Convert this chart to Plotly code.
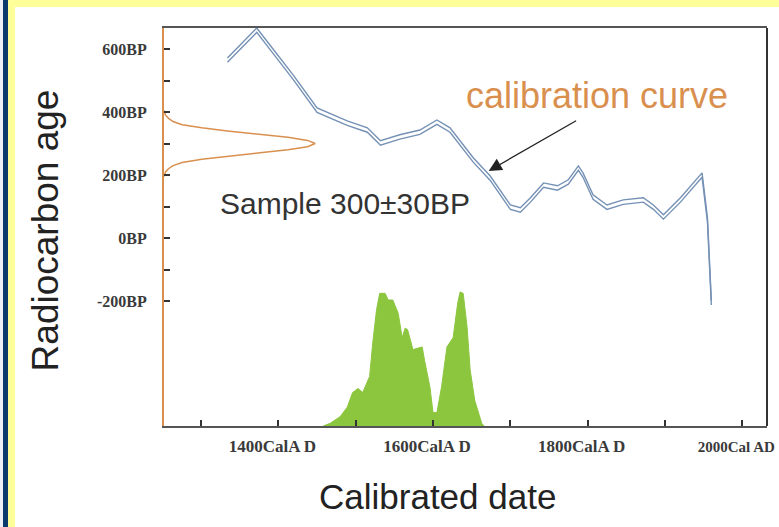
import plotly.graph_objects as go

# Calibration curve (cal AD, radiocarbon BP, half-width of band)
cal_ad = [1334, 1372, 1389, 1419, 1450, 1489, 1515, 1532, 1557, 1583, 1605, 1622,
          1652, 1674, 1700, 1713, 1726, 1743, 1761, 1775, 1788, 1794, 1807, 1825,
          1846, 1872, 1885, 1898, 1920, 1948, 1955, 1960]
cal_bp = [565, 660, 606, 511, 406, 365, 343, 302, 321, 336, 368, 343,
          248, 190, 98, 89, 121, 168, 159, 178, 222, 200, 130, 98,
          114, 121, 98, 67, 121, 200, 57, -206]
band = 7

# Sample radiocarbon distribution (BP, relative density)
sample_bp = [405, 390, 380, 370, 360, 350, 340, 330, 320, 310, 300,
             290, 280, 270, 260, 250, 240, 230, 220, 210, 195]
sample_dens = [0.0, 0.01, 0.03, 0.06, 0.12, 0.25, 0.42, 0.62, 0.82, 0.95, 1.0,
               0.95, 0.82, 0.62, 0.42, 0.25, 0.12, 0.06, 0.03, 0.01, 0.0]

# Calibrated date distribution (cal AD, relative probability)
prob_ad = [1458, 1467, 1480, 1489, 1496, 1503, 1509, 1518, 1522, 1527, 1531, 1538, 1542,
           1548, 1555, 1560, 1564, 1567, 1574, 1580, 1586, 1589, 1596, 1600, 1605,
           1611, 1618, 1626, 1632, 1635, 1639, 1644, 1648, 1654, 1663, 1666]
prob_val = [0.0, 0.02, 0.07, 0.14, 0.25, 0.28, 0.25, 0.37, 0.62, 0.87, 0.99, 0.99, 0.94,
            0.94, 0.84, 0.66, 0.73, 0.72, 0.57, 0.58, 0.59, 0.49, 0.29, 0.10, 0.10,
            0.29, 0.59, 0.66, 0.92, 1.0, 0.99, 0.74, 0.42, 0.19, 0.02, 0.0]

x_tickvals = [1300, 1400, 1500, 1600, 1700, 1800, 1900, 2000]
x_ticktext = ["", "1400CalA D", "", "1600CalA D", "", "1800CalA D", "",
              "<span style='font-size:15px'>2000Cal AD</span>"]
y_tickvals = [-200, -100, 0, 100, 200, 300, 400, 500, 600]
y_ticktext = ["-200BP", "", "0BP", "", "200BP", "", "400BP", "", "600BP"]

curve_color = "#7591b5"
orange = "#d9904f"
green = "#8cc63e"

upper = [b + band for b in cal_bp]
lower = [b - band for b in cal_bp]

fig = go.Figure()
fig.add_trace(go.Scatter(x=prob_ad, y=prob_val, mode="lines", fill="tozeroy",
                         line=dict(color=green, width=1), fillcolor=green,
                         yaxis="y3", hoverinfo="skip"))
fig.add_trace(go.Scatter(x=sample_dens, y=sample_bp, mode="lines",
                         line=dict(color=orange, width=1.5), xaxis="x2",
                         hoverinfo="skip"))
fig.add_trace(go.Scatter(x=cal_ad, y=upper, mode="lines",
                         line=dict(color=curve_color, width=1.4), hoverinfo="skip"))
fig.add_trace(go.Scatter(x=cal_ad, y=lower, mode="lines",
                         line=dict(color=curve_color, width=1.4), hoverinfo="skip"))

serif = "Liberation Serif"
sans = "Liberation Sans"

fig.update_layout(
    width=779, height=527,
    margin=dict(l=164, r=12, t=28, b=101, autoexpand=False),
    paper_bgcolor="#ffff99",
    plot_bgcolor="rgba(0,0,0,0)",
    showlegend=False,
    xaxis=dict(range=[1252, 2032], tickvals=x_tickvals, ticktext=x_ticktext,
               ticks="inside", ticklen=6, tickwidth=1.5, tickcolor="#333",
               showline=True, linecolor="#555", linewidth=2, mirror=True,
               showgrid=False, zeroline=False, ticklabelshift=-6,
               ticklabelstandoff=4, automargin=False, ticklabeloverflow="allow",
               tickfont=dict(family=serif, size=17, color="#3a3a3a", weight="bold")),
    yaxis=dict(range=[-597, 667], tickvals=y_tickvals, ticktext=y_ticktext,
               ticks="inside", ticklen=6, tickwidth=1.5, tickcolor="#333",
               showline=True, linecolor=orange, linewidth=2, automargin=False,
               showgrid=False, zeroline=False, ticklabelstandoff=12,
               ticklabeloverflow="allow",
               tickfont=dict(family=serif, size=16, color="#3a3a3a", weight="bold")),
    xaxis2=dict(range=[0, 3.99], overlaying="x", visible=False),
    yaxis3=dict(range=[0, 2.97], overlaying="y", visible=False),
)

shapes = [
    # white inner panel
    dict(type="rect", xref="paper", yref="paper", x0=-0.247, x1=1.03, y0=-0.26, y1=1.0528,
         fillcolor="white", line=dict(width=0), layer="below"),
    # dark blue strip
    dict(type="rect", xref="paper", yref="paper", x0=-0.2670, x1=-0.2587, y0=-0.26, y1=1.1,
         fillcolor="#0b3a6c", line=dict(width=0), layer="below"),
    # light strip at far left
    dict(type="rect", xref="paper", yref="paper", x0=-0.28, x1=-0.2670, y0=-0.26, y1=1.1,
         fillcolor="#eef2f8", line=dict(width=0), layer="below"),
    # right frame line
    dict(type="line", xref="paper", yref="paper", x0=1, x1=1, y0=0, y1=1,
         line=dict(color="#333", width=2)),
]
fig.update_layout(shapes=shapes)

fig.add_annotation(x=1812, y=454, xref="x", yref="y", text="calibration curve",
                   showarrow=False, font=dict(family=sans, size=36, color=orange))
fig.add_annotation(x=1486, y=111, xref="x", yref="y", text="Sample 300±30BP",
                   showarrow=False, font=dict(family=sans, size=30, color="#333"))
fig.add_annotation(x=1672, y=213, ax=1787, ay=375, xref="x", yref="y",
                   axref="x", ayref="y", text="", showarrow=True,
                   arrowhead=2, arrowsize=2, arrowwidth=1.3, arrowcolor="#222")
fig.add_annotation(x=-0.197, y=0.492, xref="paper", yref="paper", text="Radiocarbon age",
                   textangle=-90, showarrow=False, xanchor="center", yanchor="middle",
                   font=dict(family=sans, size=37, color="#222"))
fig.add_annotation(x=0.454, y=-0.178, xref="paper", yref="paper", text="Calibrated date",
                   showarrow=False, xanchor="center", yanchor="middle",
                   font=dict(family=sans, size=35, color="#222"))

fig.write_html("out.html", post_script="document.body.style.margin='0';",
               config={"displayModeBar": False})
